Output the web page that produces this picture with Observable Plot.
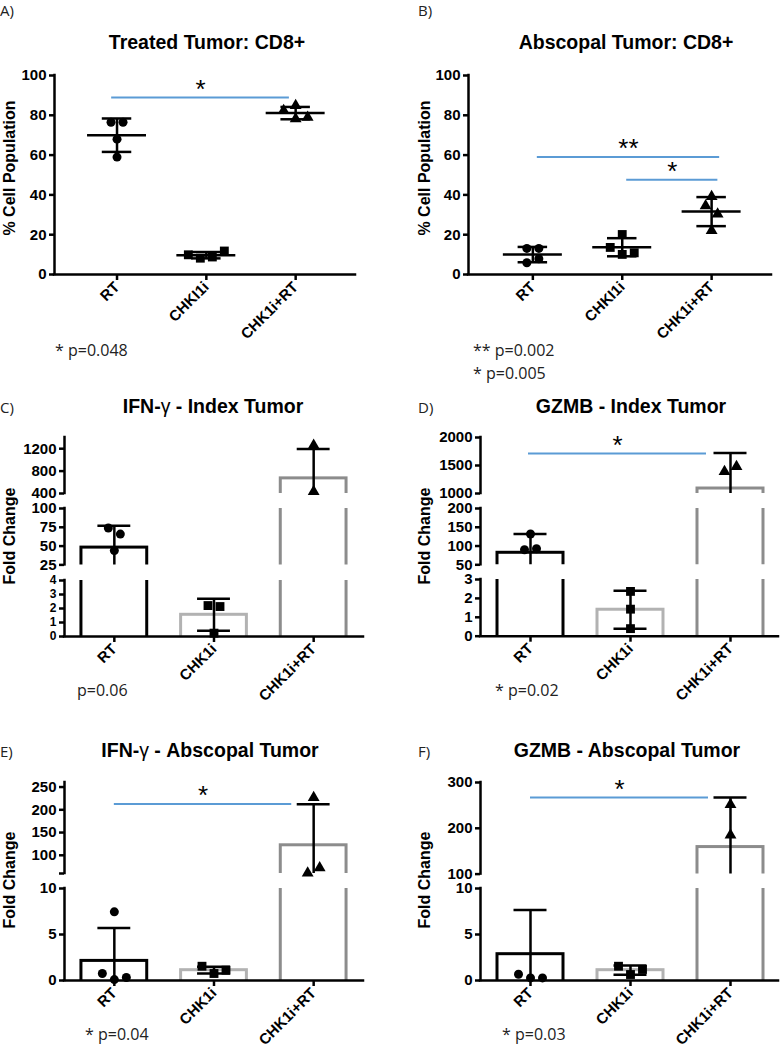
<!DOCTYPE html>
<html>
<head>
<meta charset="utf-8">
<script src="https://cdn.jsdelivr.net/npm/d3@7"></script>
<script src="https://cdn.jsdelivr.net/npm/@observablehq/plot@0.6"></script>
<style>
  html, body { margin: 0; padding: 0; background: #fff; overflow: hidden; }
  #fig { position: relative; width: 781px; height: 1050px; overflow: hidden; background: #fff; }
</style>
</head>
<body>
<div id="fig"></div>
<script>
// ---------------- DATA ----------------
const groupsAB = ["RT", "CHKI1i", "CHK1i+RT"];
const groupsBar = ["RT", "CHK1i", "CHK1i+RT"];

// Panel A – Treated Tumor: CD8+ (% cell population)
const aPts = [[76.5, 76.5, 68, 59], [8.8, 8.2, 11.8, 9.9], [84.9, 82.4, 78.2, 79]];
const aMean = [70, 9.7, 81.1];
const aSD = [8.4, 1.6, 3.1];
const aTicks = [[0, 20, 40, 60, 80, 100]];
const aSig = [{x1: -0.06, x2: 1.93, y: 88.9, label: "*"}];

// Panel B – Abscopal Tumor: CD8+
const bPts = [[13.1, 13.1, 7.9, 5.9], [20.1, 10.1, 13.6, 10.9], [39.2, 30.3, 34.5, 22.1]];
const bMean = [10, 13.7, 31.6];
const bSD = [3.85, 4.55, 7.3];
const bTicks = [[0, 20, 40, 60, 80, 100]];
const bSig = [{x1: 0.05, x2: 2.09, y: 59.1, label: "**"}, {x1: 1.05, x2: 2.07, y: 47.6, label: "*"}];

// Panel C – IFN-γ Index Tumor (fold change)
const cPts = [[66, 74, 44], [2.14, 2.21, 0.24], [1260, 436]];
const cMean = [48, 1.55, 670];
const cSD = [29, 1.14, 523];
const cTicks = [[400, 800, 1200], [25, 50, 75, 100], [0, 1, 2, 3, 4]];
const cSig = [];

// Panel D – GZMB Index Tumor
const dPts = [[132, 92.7, 90], [2.37, 1.43, 0.4], [1482, 1393]];
const dMean = [82, 1.4, 1089];
const dSD = [50, 1.0, 632];
const dTicks = [[1000, 1500, 2000], [50, 100, 150, 200], [0, 1, 2, 3]];
const dSig = [{x1: -0.02, x2: 1.76, y: 1714, label: "*"}];

// Panel E – IFN-γ Abscopal Tumor
const ePts = [[7.46, 0.1, 0.76, 0.33], [0.76, 1.55, 1.12], [227, 72.5, 61]];
const eMean = [2.13, 1.12, 122];
const eSD = [3.57, 0.37, 90];
const eTicks = [[60, 100, 150, 200, 250], [0, 5, 10]];
const eUnlabeled = [60];
const eSig = [{x1: 0, x2: 1.78, y: 212.5, label: "*"}];

// Panel F – GZMB Abscopal Tumor
const fPts = [[0.28, 0.68, 0.28], [0.65, 1.55, 1.2], [252, 185]];
const fMean = [2.86, 1.12, 159];
const fSD = [4.8, 0.5, 108];
const fTicks = [[100, 200, 300], [0, 5, 10]];
const fSig = [{x1: 0, x2: 1.78, y: 267, label: "*"}];

// Text content
const panelLetters = ["A)", "B)", "C)", "D)", "E)", "F)"];
const titles = ["Treated Tumor: CD8+", "Abscopal Tumor: CD8+", "IFN-γ - Index Tumor", "GZMB - Index Tumor", "IFN-γ - Abscopal Tumor", "GZMB - Abscopal Tumor"];
const yLabels = ["% Cell Population", "% Cell Population", "Fold Change", "Fold Change", "Fold Change", "Fold Change"];
const footnotes = [["* p=0.048"], ["** p=0.002", "* p=0.005"], ["p=0.06"], ["* p=0.02"], ["* p=0.04"], ["* p=0.03"]];

// ---------------- STYLE / LAYOUT ----------------
const symbols = ["circle", "square", "triangle"];
const symbolR = [4.5, 5, 4.4];
const barStroke = ["#000000", "#b2b2b2", "#8c8c8c"];
const sigColor = "#5b9bd5";
const TICKFONT = "'Liberation Sans', Arial, Helvetica, sans-serif";
const NOTEFONT = "'Open Sans', 'Noto Sans', sans-serif";

const panels = [
  {kind: "scatter", groups: groupsAB, pts: aPts, mean: aMean, sd: aSD, ticks: aTicks, unlabeled: [], sig: aSig,
   x0: 54, x1: 355, xDomain: [-0.7, 2.67], segs: [{domain: [0, 100], top: 75, bot: 274}],
   letter: [0, 16], title: [207, 49], ylab: [15, 168], foot: [55, 356]},
  {kind: "scatter", groups: groupsAB, pts: bPts, mean: bMean, sd: bSD, ticks: bTicks, unlabeled: [], sig: bSig,
   x0: 468, x1: 771, xDomain: [-0.72, 2.67], segs: [{domain: [0, 100], top: 75, bot: 274}],
   letter: [418, 16], title: [626, 49], ylab: [430, 168], foot: [473, 356]},
  {kind: "bar", groups: groupsBar, pts: cPts, mean: cMean, sd: cSD, ticks: cTicks, unlabeled: [], sig: cSig,
   x0: 64, x1: 363, xDomain: [-0.5, 2.5],
   segs: [{domain: [400, 1400], top: 436.7, bot: 492.7}, {domain: [25, 100], top: 508.3, bot: 564.7}, {domain: [0, 4], top: 580, bot: 636}],
   letter: [0, 413], title: [213, 413], ylab: [15, 536], foot: [77, 696]},
  {kind: "bar", groups: groupsBar, pts: dPts, mean: dMean, sd: dSD, ticks: dTicks, unlabeled: [], sig: dSig,
   x0: 480, x1: 778, xDomain: [-0.5, 2.48],
   segs: [{domain: [1000, 2000], top: 436.7, bot: 492.7}, {domain: [50, 200], top: 507.7, bot: 564}, {domain: [0, 3], top: 579.3, bot: 636}],
   letter: [418, 413], title: [631, 413], ylab: [430, 536], foot: [495, 696]},
  {kind: "bar", groups: groupsBar, pts: ePts, mean: eMean, sd: eSD, ticks: eTicks, unlabeled: eUnlabeled, sig: eSig,
   x0: 64, x1: 363, xDomain: [-0.5, 2.5],
   segs: [{domain: [60, 260], top: 781.7, bot: 872.7}, {domain: [0, 10], top: 888.3, bot: 980.3}],
   letter: [0, 757], title: [210, 757], ylab: [15, 880], foot: [85, 1040]},
  {kind: "bar", groups: groupsBar, pts: fPts, mean: fMean, sd: fSD, ticks: fTicks, unlabeled: [], sig: fSig,
   x0: 480, x1: 778, xDomain: [-0.5, 2.48],
   segs: [{domain: [100, 300], top: 781.7, bot: 873.3}, {domain: [0, 10], top: 888.3, bot: 980.3}],
   letter: [418, 757], title: [627, 757], ylab: [430, 880], foot: [502, 1040]}
];

const fig = document.getElementById("fig");

// Spread overlapping points sideways (beeswarm, then centre each cluster), in px -> x units
function spread(pys, step) {
  const D = 9, d = 12;
  const placed = [];
  const out = pys.map(() => 0);
  pys.forEach((py, k) => {
    if (py == null) return;
    const cands = [0, -d, d, -2 * d, 2 * d, -3 * d, 3 * d];
    for (const c of cands) {
      if (placed.every(p => Math.hypot(p.x - c, p.y - py) >= D)) {
        placed.push({x: c, y: py, k});
        break;
      }
    }
  });
  const sorted = placed.slice().sort((a, b) => a.y - b.y);
  let comp = [];
  const flush = () => {
    if (comp.length) {
      const lo = d3.min(comp, p => p.x), hi = d3.max(comp, p => p.x);
      comp.forEach(p => out[p.k] = p.x - (lo + hi) / 2);
    }
    comp = [];
  };
  sorted.forEach((p, j) => { if (j > 0 && p.y - sorted[j - 1].y >= D) flush(); comp.push(p); });
  flush();
  return out.map(o => o / step);
}

panels.forEach(P => {
  const step = (P.x1 - P.x0) / (P.xDomain[1] - P.xDomain[0]);
  const segOf = v => P.segs.findIndex(s => v >= s.domain[0] && v <= s.domain[1]);
  const toPx = v => {
    const si = segOf(v);
    if (si < 0) return null;
    const s = P.segs[si];
    return s.bot - (v - s.domain[0]) / (s.domain[1] - s.domain[0]) * (s.bot - s.top);
  };
  const points = [];
  P.pts.forEach((vals, g) => {
    const offs = spread(vals.map(toPx), step);
    vals.forEach((v, k) => { const si = segOf(v); if (si >= 0) points.push({g, v, x: g + offs[k], seg: si}); });
  });
  const stats = P.mean.map((m, g) => ({x: g, mean: m, lo: m - P.sd[g], hi: m + P.sd[g]}));
  const caps = stats.flatMap(d => [{x: d.x, y: d.hi}, {x: d.x, y: d.lo}]);

  P.segs.forEach((s, si) => {
    const isBottom = si === P.segs.length - 1;
    const ML = 52, MR = 4, MT = 12, MB = isBottom ? 90 : 12;
    const inSeg = v => v >= s.domain[0] && v <= s.domain[1];
    // tick-label size: shrink only when ticks sit very close together
    const t = P.ticks[si];
    const tickGap = d3.min(d3.pairs(t), ([a, b]) => (b - a) / (s.domain[1] - s.domain[0]) * (s.bot - s.top));
    const tickFont = Math.min(15, Math.floor(tickGap / 1.12));
    const marks = [];
    if (P.kind === "bar") {
      stats.forEach((d, g) => {
        marks.push(Plot.rect([d], {x1: e => e.x - 0.33, x2: e => e.x + 0.33, y1: 0, y2: "mean",
          fill: "none", stroke: barStroke[g], strokeWidth: 3, insetBottom: -6, clip: true}));
      });
    } else {
      marks.push(Plot.ruleY(stats, {y: "mean", x1: d => d.x - 0.33, x2: d => d.x + 0.33, strokeWidth: 2.5, clip: true}));
    }
    marks.push(Plot.ruleX(stats, {x: "x", y1: "lo", y2: "hi", strokeWidth: 2.5, clip: true}));
    marks.push(Plot.ruleY(caps, {y: "y", x1: d => d.x - 0.165, x2: d => d.x + 0.165, strokeWidth: 2.5, clip: true}));
    P.groups.forEach((_, g) => {
      marks.push(Plot.dot(points.filter(p => p.g === g && p.seg === si), {x: "x", y: "v", symbol: symbols[g], r: symbolR[g], fill: "black"}));
    });
    const sig = P.sig.filter(d => inSeg(d.y));
    if (sig.length) {
      marks.push(Plot.ruleY(sig, {y: "y", x1: "x1", x2: "x2", stroke: sigColor, strokeWidth: 2}));
      marks.push(Plot.text(sig, {x: d => (d.x1 + d.x2) / 2, y: "y", text: "label", fontSize: 26, fontWeight: "normal", dy: -8}));
    }
    // axis lines
    marks.push(Plot.ruleX([P.xDomain[0]], {strokeWidth: 2.5, strokeLinecap: "square"}));
    marks.push(Plot.axisY(t, {tickSize: 5, tickPadding: 3, strokeWidth: 2.5, fontWeight: "bold", fontSize: tickFont, label: null,
      tickFormat: d => P.unlabeled.includes(d) ? "" : String(d)}));
    if (isBottom) {
      marks.push(Plot.ruleY([s.domain[0]], {strokeWidth: 2.5, strokeLinecap: "square"}));
      marks.push(Plot.axisX(P.groups.map((_, g) => g), {tickSize: 6, tickPadding: 4, tickRotate: -45, strokeWidth: 2.5,
        fontWeight: "bold", fontSize: 15, label: null, tickFormat: g => P.groups[g]}));
    }
    const svg = Plot.plot({
      width: P.x1 - P.x0 + ML + MR,
      height: s.bot - s.top + MT + MB,
      marginLeft: ML, marginRight: MR, marginTop: MT, marginBottom: MB,
      x: isBottom ? {domain: P.xDomain, label: null} : {domain: P.xDomain, label: null, axis: null},
      y: {domain: s.domain, label: null},
      style: {position: "absolute", left: (P.x0 - ML) + "px", top: (s.top - MT) + "px", background: "transparent",
        overflow: "visible", maxWidth: "none", fontFamily: TICKFONT, fontSize: "15px", color: "#000"},
      marks
    });
    fig.appendChild(svg);
  });
});

// ---------------- TEXT OVERLAY ----------------
const ov = d3.select(fig).append("svg")
  .attr("width", 781).attr("height", 1050)
  .attr("style", "position:absolute;left:0;top:0;overflow:visible;pointer-events:none");

panels.forEach((P, p) => {
  ov.append("text").attr("x", P.letter[0]).attr("y", P.letter[1])
    .attr("font-family", NOTEFONT).attr("font-size", 15).attr("fill", "#222").text(panelLetters[p]);
  const t = ov.append("text").attr("x", P.title[0]).attr("y", P.title[1]).attr("text-anchor", "middle")
    .attr("font-family", TICKFONT).attr("font-weight", "bold").attr("font-size", 19.5).attr("fill", "#000");
  titles[p].split(/(γ)/).forEach(part => {
    if (!part) return;
    const ts = t.append("tspan").text(part);
    if (part === "γ") ts.attr("font-weight", "normal");
  });
  ov.append("text").attr("transform", `translate(${P.ylab[0]},${P.ylab[1]}) rotate(-90)`)
    .attr("text-anchor", "middle").attr("font-family", TICKFONT).attr("font-weight", "bold")
    .attr("font-size", 16).attr("fill", "#000").text(yLabels[p]);
  footnotes[p].forEach((f, k) => {
    ov.append("text").attr("x", P.foot[0]).attr("y", P.foot[1] + k * 23)
      .attr("font-family", NOTEFONT).attr("font-size", 16).attr("fill", "#222").text(f);
  });
});
</script>
</body>
</html>
